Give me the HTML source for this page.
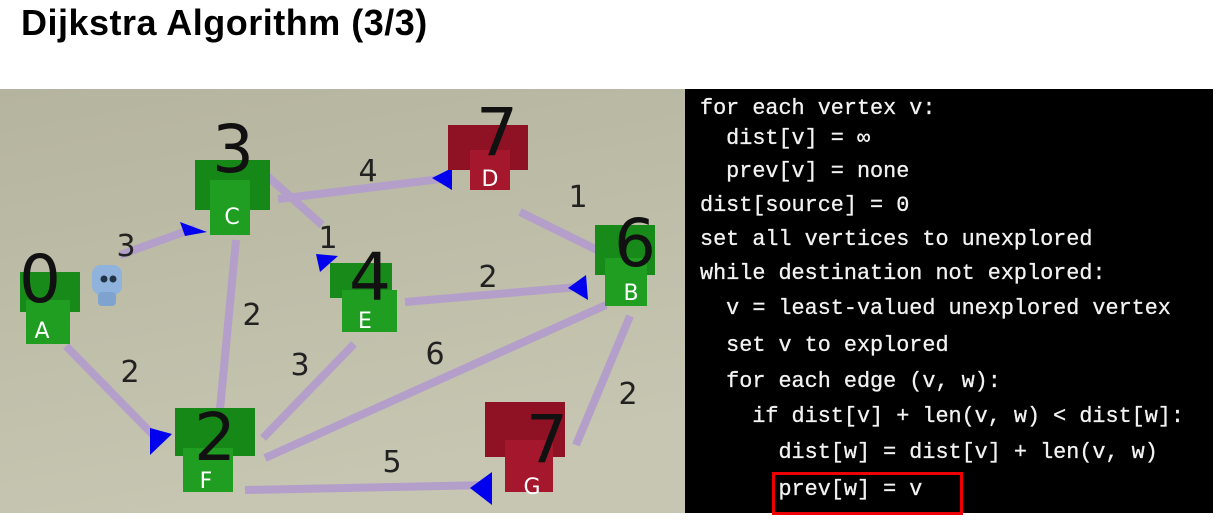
<!DOCTYPE html>
<html><head><meta charset="utf-8"><style>
body{margin:0;width:1218px;height:523px;background:#fff;position:relative;overflow:hidden;font-family:"Liberation Sans",sans-serif}
.t{position:absolute;left:21px;top:2px;font-weight:bold;font-size:36px;color:#000;letter-spacing:0.5px}
.code{position:absolute;left:685px;top:89px;width:528px;height:424px;background:#000}
.l{position:absolute;font-family:"Liberation Mono","DejaVu Sans Mono",monospace;font-size:21.8px;color:#f2f2f2;white-space:pre;line-height:24px;-webkit-text-stroke:0.3px #f2f2f2}
.box{position:absolute;left:772px;top:472px;width:185px;height:37px;border:3px solid #e00}
</style></head><body>
<div class="t">Dijkstra Algorithm (3/3)</div>
<svg style="position:absolute;left:0;top:89px" width="685" height="424" viewBox="0 89 685 424">
<defs><linearGradient id="bg" x1="0" y1="0" x2="0.3" y2="1"><stop offset="0" stop-color="#b5b49e"/><stop offset="1" stop-color="#c6c6b2"/></linearGradient></defs>
<rect x="0" y="89" width="685" height="424" fill="url(#bg)"/>
<g stroke="#b39fc9" stroke-width="8" fill="none">
<line x1="120" y1="255" x2="195" y2="228"/>
<line x1="66" y1="346" x2="158" y2="440"/>
<line x1="278" y1="199" x2="440" y2="179"/>
<line x1="265" y1="174" x2="322" y2="225"/>
<line x1="236" y1="240" x2="219" y2="420"/>
<line x1="405" y1="302" x2="578" y2="287"/>
<line x1="354" y1="344" x2="263" y2="438"/>
<line x1="606" y1="305" x2="265" y2="458"/>
<line x1="520" y1="212" x2="597" y2="250"/>
<line x1="630" y1="316" x2="576" y2="445"/>
<line x1="245" y1="490" x2="490" y2="485"/>
</g>
<g fill="#0000ee">
<polygon points="180,222 207,232 185,236"/>
<polygon points="150,428 172,434 150,455"/>
<polygon points="432,178 452,168 452,190"/>
<polygon points="316,254 338,256 320,272"/>
<polygon points="568,288 586,275 588,300"/>
<polygon points="470,488 492,472 492,505"/>
</g>
<rect x="92" y="265" width="30" height="30" rx="9" fill="#8fb3dc"/>
<circle cx="104" cy="279" r="3.5" fill="#234"/><circle cx="113" cy="279" r="3.5" fill="#234"/>
<rect x="98" y="292" width="18" height="14" rx="4" fill="#7ea3cf"/>
<g fill="#1f9e22">
<rect x="20" y="272" width="60" height="40" fill="#188a1a"/><rect x="26" y="300" width="44" height="44"/>
<rect x="195" y="160" width="75" height="50" fill="#168817"/><rect x="210" y="180" width="40" height="55"/>
<rect x="330" y="263" width="62" height="35" fill="#188a1a"/><rect x="342" y="290" width="55" height="42"/>
<rect x="595" y="225" width="60" height="50" fill="#188a1a"/><rect x="605" y="258" width="42" height="48"/>
<rect x="175" y="408" width="80" height="48" fill="#168817"/><rect x="183" y="448" width="50" height="44"/>
</g>
<g fill="#a5172c">
<rect x="448" y="125" width="80" height="45" fill="#8f1224"/><rect x="470" y="150" width="40" height="40"/>
<rect x="485" y="402" width="80" height="55" fill="#8f1224"/><rect x="505" y="440" width="48" height="52"/>
</g>
<g fill="#fff" font-size="22" font-family="DejaVu Sans,sans-serif" text-anchor="middle">
<text x="42" y="338">A</text><text x="232" y="224">C</text><text x="490" y="186">D</text>
<text x="365" y="328">E</text><text x="631" y="300">B</text><text x="206" y="488">F</text><text x="532" y="494">G</text>
</g>
<g fill="#111" font-family="DejaVu Sans,sans-serif" text-anchor="middle" font-size="66">
<text x="40" y="302">0</text><text x="233" y="172">3</text><text x="497" y="155">7</text>
<text x="370" y="300">4</text><text x="635" y="266">6</text><text x="215" y="460">2</text><text x="547" y="462">7</text>
</g>
<g fill="#222" font-family="DejaVu Sans,sans-serif" text-anchor="middle" font-size="30">
<text x="126" y="256">3</text><text x="368" y="181">4</text><text x="328" y="248">1</text><text x="578" y="207">1</text>
<text x="488" y="287">2</text><text x="252" y="325">2</text><text x="130" y="382">2</text><text x="300" y="375">3</text>
<text x="435" y="364">6</text><text x="628" y="404">2</text><text x="392" y="472">5</text>
</g>
</svg>
<div class="code"></div>
<div class="l" style="left:700px;top:97px">for each vertex v:</div>
<div class="l" style="left:700px;top:127px">  dist[v] = ∞</div>
<div class="l" style="left:700px;top:160px">  prev[v] = none</div>
<div class="l" style="left:700px;top:194px">dist[source] = 0</div>
<div class="l" style="left:700px;top:228px">set all vertices to unexplored</div>
<div class="l" style="left:700px;top:262px">while destination not explored:</div>
<div class="l" style="left:700px;top:297px">  v = least-valued unexplored vertex</div>
<div class="l" style="left:700px;top:334px">  set v to explored</div>
<div class="l" style="left:700px;top:370px">  for each edge (v, w):</div>
<div class="l" style="left:700px;top:405px">    if dist[v] + len(v, w) &lt; dist[w]:</div>
<div class="l" style="left:700px;top:441px">      dist[w] = dist[v] + len(v, w)</div>
<div class="l" style="left:700px;top:478px">      prev[w] = v</div>
<div class="box"></div>
</body></html>
